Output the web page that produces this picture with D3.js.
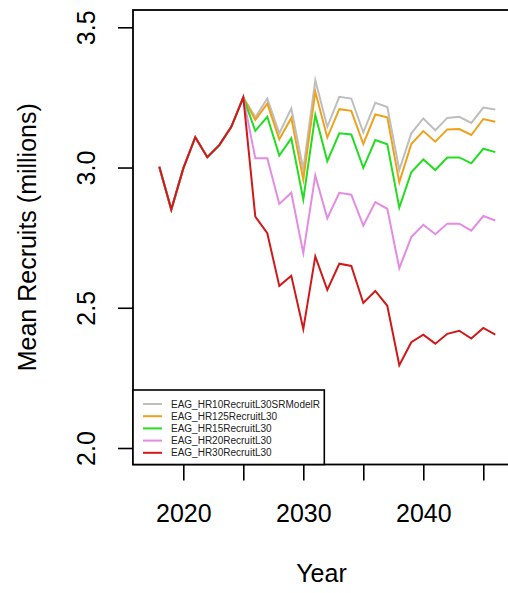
<!DOCTYPE html>
<html>
<head>
<meta charset="utf-8">
<script src="https://cdn.jsdelivr.net/npm/d3@7"></script>
<style>
  html, body { margin: 0; padding: 0; background: #fff; }
  svg { display: block; font-family: "Liberation Sans", Arial, sans-serif; }
</style>
</head>
<body>
<svg id="chart" width="508" height="593"></svg>
<script>
// Years of the recruitment time series
const years = [2018, 2019, 2020, 2021, 2022, 2023, 2024, 2025,
  2026, 2027, 2028, 2029, 2030, 2031, 2032, 2033, 2034, 2035, 2036,
  2037, 2038, 2039, 2040, 2041, 2042, 2043, 2044, 2045, 2046];

// Shared historical recruits (2018-2025), millions
const history = [3.003, 2.850, 2.997, 3.108, 3.037, 3.080, 3.145, 3.250];

// Projected mean recruits (2026-2046) for each harvest-rate scenario
const hr10 = [3.179, 3.246, 3.122, 3.211, 2.993, 3.311, 3.145, 3.252, 3.246, 3.125, 3.231,
  3.216, 2.991, 3.122, 3.175, 3.133, 3.177, 3.181, 3.159, 3.214, 3.207];
const hr125 = [3.170, 3.228, 3.101, 3.177, 2.957, 3.270, 3.107, 3.208, 3.202, 3.084, 3.189,
  3.179, 2.947, 3.084, 3.130, 3.092, 3.136, 3.137, 3.116, 3.173, 3.163];
const hr15 = [3.131, 3.181, 3.043, 3.104, 2.886, 3.187, 3.023, 3.122, 3.118, 2.999, 3.098,
  3.083, 2.857, 2.983, 3.029, 2.991, 3.036, 3.036, 3.015, 3.067, 3.055];
const hr20 = [3.033, 3.033, 2.870, 2.910, 2.695, 2.972, 2.819, 2.910, 2.903, 2.793, 2.877,
  2.853, 2.641, 2.752, 2.796, 2.762, 2.800, 2.800, 2.775, 2.827, 2.811];
const hr30 = [2.825, 2.766, 2.578, 2.614, 2.424, 2.683, 2.564, 2.657, 2.649, 2.517, 2.560,
  2.507, 2.295, 2.377, 2.404, 2.372, 2.407, 2.418, 2.390, 2.428, 2.404];

const seriesNames = ["EAG_HR10RecruitL30SRModelR", "EAG_HR125RecruitL30",
  "EAG_HR15RecruitL30", "EAG_HR20RecruitL30", "EAG_HR30RecruitL30"];
const seriesColors = ["#bebebe", "#eea21c", "#22dd22", "#e48ce4", "#d01a1a"];
const seriesValues = [hr10, hr125, hr15, hr20, hr30];

const xTicks = [2020, 2025, 2030, 2035, 2040, 2045];
const xLabelled = [2020, 2030, 2040];
const yTicks = [2.0, 2.5, 3.0, 3.5];

const svg = d3.select("#chart");

// Plot frame (right edge runs just past the drawing surface)
const box = { left: 133, top: 10, right: 510, bottom: 464.5 };

const x = d3.scaleLinear().domain([2020, 2045]).range([183.3, 483.3]);
const y = d3.scaleLinear().domain([2.0, 3.5]).range([448, 27.3]);

// Lines: every scenario starts from the common history
const line = d3.line().x(d => x(d.year)).y(d => y(d.value));
const seriesData = seriesValues.map(vals =>
  years.map((yr, i) => ({ year: yr, value: i < history.length ? history[i] : vals[i - history.length] })));

svg.append("g")
  .selectAll("path")
  .data(seriesData)
  .join("path")
  .attr("d", line)
  .attr("fill", "none")
  .attr("stroke", (d, i) => seriesColors[i])
  .attr("stroke-width", 2)
  .attr("stroke-linejoin", "miter")
  .attr("stroke-miterlimit", 10);

// Frame
svg.append("rect")
  .attr("x", box.left).attr("y", box.top)
  .attr("width", box.right - box.left).attr("height", box.bottom - box.top)
  .attr("fill", "none").attr("stroke", "#000").attr("stroke-width", 1.8);

// X axis
const xAxis = svg.append("g")
  .attr("transform", `translate(0,${box.bottom})`)
  .call(d3.axisBottom(x).tickValues(xTicks).tickSize(16)
    .tickFormat(d => xLabelled.includes(d) ? String(d) : ""));
xAxis.select(".domain").remove();
xAxis.selectAll(".tick line").attr("stroke", "#000").attr("stroke-width", 1.6);
xAxis.selectAll(".tick text")
  .attr("y", 57).attr("dy", null)
  .attr("font-size", 25).attr("fill", "#000")
  .attr("font-family", "'Liberation Sans', Arial, sans-serif");

// Y axis
const yAxis = svg.append("g")
  .attr("transform", `translate(${box.left},0)`)
  .call(d3.axisLeft(y).tickValues(yTicks).tickSize(15).tickFormat(d3.format(".1f")));
yAxis.select(".domain").remove();
yAxis.selectAll(".tick line").attr("stroke", "#000").attr("stroke-width", 1.6);
yAxis.selectAll(".tick text")
  .attr("x", null).attr("dy", null)
  .attr("text-anchor", "middle")
  .attr("transform", "translate(-38,0) rotate(-90)")
  .attr("font-size", 25).attr("fill", "#000")
  .attr("font-family", "'Liberation Sans', Arial, sans-serif");

// Axis titles
svg.append("text")
  .attr("x", (box.left + box.right) / 2).attr("y", 582)
  .attr("text-anchor", "middle").attr("font-size", 25)
  .text("Year");
svg.append("text")
  .attr("transform", `translate(36,${(box.top + box.bottom) / 2}) rotate(-90)`)
  .attr("text-anchor", "middle").attr("font-size", 25)
  .text("Mean Recruits (millions)");

// Legend
const legend = svg.append("g");
legend.append("rect")
  .attr("x", box.left).attr("y", 390)
  .attr("width", 324.3 - box.left).attr("height", box.bottom - 390)
  .attr("fill", "#fff").attr("stroke", "#000").attr("stroke-width", 1.6);
const rows = legend.selectAll("g.row")
  .data(seriesNames)
  .join("g")
  .attr("class", "row")
  .attr("transform", (d, i) => `translate(0,${404 + i * 12.2})`);
rows.append("line")
  .attr("x1", 143).attr("x2", 162)
  .attr("stroke", (d, i) => seriesColors[i]).attr("stroke-width", 2);
rows.append("text")
  .attr("x", 171).attr("dy", "0.35em")
  .attr("font-size", 10).attr("fill", "#222")
  .text(d => d);
</script>
</body>
</html>
